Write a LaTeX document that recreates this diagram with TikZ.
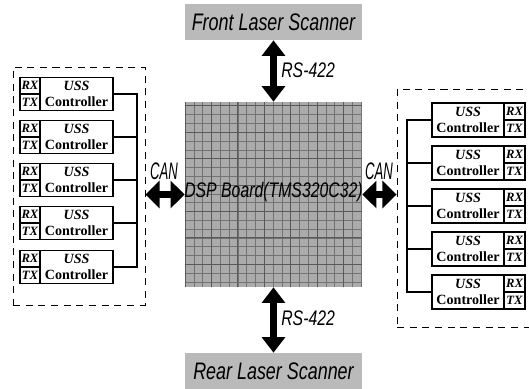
\documentclass[tikz,border=0pt]{standalone}
\usepackage{fontspec}
\usetikzlibrary{arrows.meta}
\newfontfamily\labelfont[FakeStretch=0.75]{Liberation Sans}
\newfontfamily\canfont[FakeStretch=0.55]{Liberation Sans}
\newfontfamily\ussfont{Liberation Serif}
\begin{document}
\begin{tikzpicture}
  [
    x=0.025cm, y=-0.025cm, inner sep=0mm,
    scanner/.style={rectangle,fill=black!27,minimum width=4.425cm,minimum height=0.9cm,
      font=\labelfont\itshape\fontsize{17}{17}\selectfont},
    board/.style={rectangle,fill=black!33,minimum width=4.425cm,minimum height=4.625cm},
    group/.style={rectangle,draw,semithick,dash pattern=on 5pt off 4pt},
    uss/.style={rectangle,draw,thick,fill=white,minimum width=1.825cm,minimum height=0.825cm,
      align=center,font=\ussfont\bfseries\fontsize{10}{11}\selectfont},
    rxtx/.style={rectangle,draw,thick,fill=white,minimum width=0.5cm,minimum height=0.4125cm,
      font=\ussfont\bfseries\itshape\fontsize{9}{9}\selectfont},
    bus/.style={thick},
    bigarrow/.style={{Triangle[width=16pt,length=11pt]}-{Triangle[width=16pt,length=11pt]},line width=4.6pt},
    canarrow/.style={{Triangle[width=19pt,length=10pt]}-{Triangle[width=19pt,length=10pt]},line width=4.6pt},
    link/.style={font=\labelfont\itshape\fontsize{15}{15}\selectfont},
    canlabel/.style={font=\canfont\itshape\fontsize{17}{17}\selectfont},
  ]
  \useasboundingbox (0,0) rectangle (529,389);

  % scanners and the DSP board
  \node[scanner] (front) at (273.5,22)  {Front Laser Scanner};
  \node[board]   (board) at (273.5,194.5) {};
  \draw[black!55,very thin,step=0.22cm] (board.south west) grid (board.north east);
  \draw[black!65,thin,step=0.66cm] (board.south west) grid (board.north east);
  \node[font=\labelfont\itshape\fontsize{15}{15}\selectfont] (dsp) at (273.5,192) {DSP Board(TMS320C32)};
  \node[scanner] (rear)  at (273.5,371) {Rear Laser Scanner};

  \draw[bigarrow] (front) -- (board);
  \draw[bigarrow] (board) -- (rear);
  \node[link,anchor=west] (rsup)   at (281,70)  {RS-422};
  \node[link,anchor=west] (rsdown) at (281,318) {RS-422};

  % left group of USS controllers
  \node[group,minimum width=3.3cm,minimum height=5.95cm] (lgroup) at (79,186) {};
  \coordinate (lbus) at (137,0);
  \node[uss]  (lc1) at (76.5,94)  {\itshape USS\\Controller};
  \node[rxtx] (lr1) at (30,85.75) {RX};  \node[rxtx] (lt1) at (30,102.25) {TX};
  \node[uss]  (lc2) at (76.5,137) {\itshape USS\\Controller};
  \node[rxtx] (lr2) at (30,128.75) {RX}; \node[rxtx] (lt2) at (30,145.25) {TX};
  \node[uss]  (lc3) at (76.5,180) {\itshape USS\\Controller};
  \node[rxtx] (lr3) at (30,171.75) {RX}; \node[rxtx] (lt3) at (30,188.25) {TX};
  \node[uss]  (lc4) at (76.5,223) {\itshape USS\\Controller};
  \node[rxtx] (lr4) at (30,214.75) {RX}; \node[rxtx] (lt4) at (30,231.25) {TX};
  \node[uss]  (lc5) at (76.5,267) {\itshape USS\\Controller};
  \node[rxtx] (lr5) at (30,258.75) {RX}; \node[rxtx] (lt5) at (30,275.25) {TX};
  \draw[bus] (lc1.east) -- (lc1.east -| lbus) -- (lc5.east -| lbus) -- (lc5.east);
  \draw[bus] (lc2.east) -- (lc2.east -| lbus);
  \draw[bus] (lc3.east) -- (lc3.east -| lbus);
  \draw[bus] (lc4.east) -- (lc4.east -| lbus);

  % right group of USS controllers
  \node[group,minimum width=3.35cm,minimum height=5.95cm] (rgroup) at (464,208) {};
  \coordinate (rbus) at (407,0);
  \node[uss,minimum width=1.8cm,minimum height=0.85cm]  (rc1) at (468,120) {\itshape USS\\Controller};
  \node[rxtx,minimum width=0.525cm,minimum height=0.425cm] (rr1) at (514.5,111.5) {RX};
  \node[rxtx,minimum width=0.525cm,minimum height=0.425cm] (rt1) at (514.5,128.5) {TX};
  \node[uss,minimum width=1.8cm,minimum height=0.85cm]  (rc2) at (468,163) {\itshape USS\\Controller};
  \node[rxtx,minimum width=0.525cm,minimum height=0.425cm] (rr2) at (514.5,154.5) {RX};
  \node[rxtx,minimum width=0.525cm,minimum height=0.425cm] (rt2) at (514.5,171.5) {TX};
  \node[uss,minimum width=1.8cm,minimum height=0.85cm]  (rc3) at (468,206) {\itshape USS\\Controller};
  \node[rxtx,minimum width=0.525cm,minimum height=0.425cm] (rr3) at (514.5,197.5) {RX};
  \node[rxtx,minimum width=0.525cm,minimum height=0.425cm] (rt3) at (514.5,214.5) {TX};
  \node[uss,minimum width=1.8cm,minimum height=0.85cm]  (rc4) at (468,249) {\itshape USS\\Controller};
  \node[rxtx,minimum width=0.525cm,minimum height=0.425cm] (rr4) at (514.5,240.5) {RX};
  \node[rxtx,minimum width=0.525cm,minimum height=0.425cm] (rt4) at (514.5,257.5) {TX};
  \node[uss,minimum width=1.8cm,minimum height=0.85cm]  (rc5) at (468,292) {\itshape USS\\Controller};
  \node[rxtx,minimum width=0.525cm,minimum height=0.425cm] (rr5) at (514.5,283.5) {RX};
  \node[rxtx,minimum width=0.525cm,minimum height=0.425cm] (rt5) at (514.5,300.5) {TX};
  \draw[bus] (rc1.west) -- (rc1.west -| rbus) -- (rc5.west -| rbus) -- (rc5.west);
  \draw[bus] (rc2.west) -- (rc2.west -| rbus);
  \draw[bus] (rc3.west) -- (rc3.west -| rbus);
  \draw[bus] (rc4.west) -- (rc4.west -| rbus);

  % CAN links to the board
  \draw[canarrow] (board.west -| lgroup.east) -- (board.west);
  \draw[canarrow] (board.east) -- (board.east -| rgroup.west);
  \node[canlabel] (lcan) at (164,171) {CAN};
  \node[canlabel] (rcan) at (379,171) {CAN};
\end{tikzpicture}
\end{document}
